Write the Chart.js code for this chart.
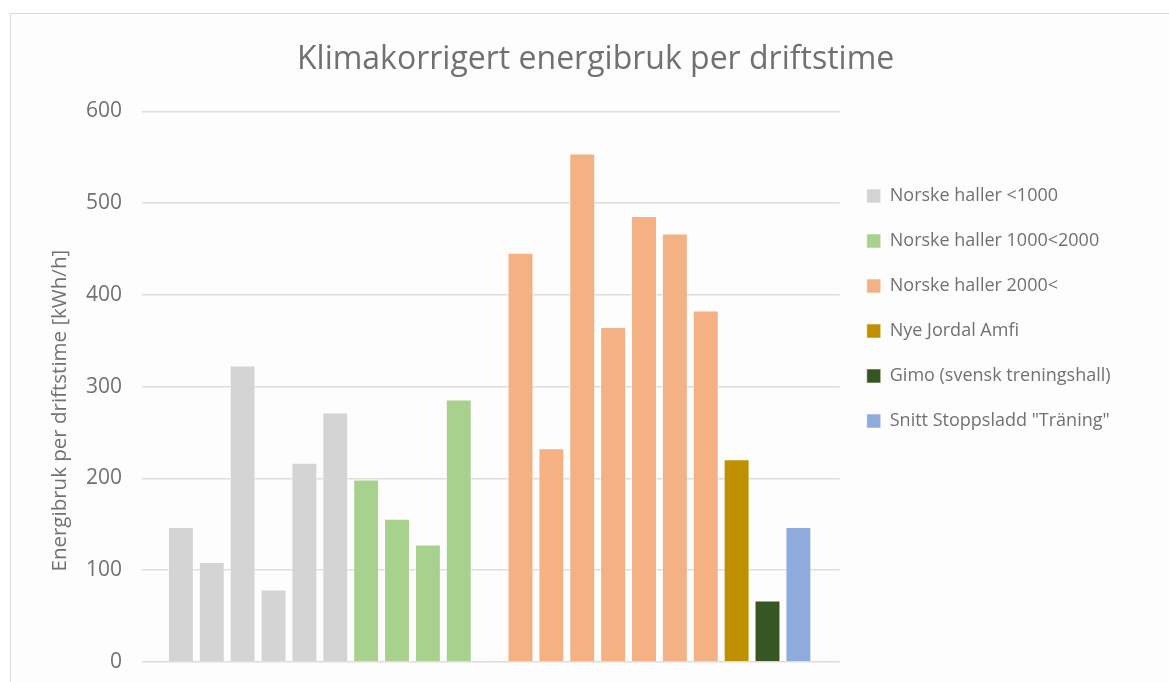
<!DOCTYPE html>
<html>
<head>
<meta charset="utf-8">
<script src="https://cdn.jsdelivr.net/npm/chart.js@4/dist/chart.umd.min.js"></script>
<style>
  html, body { margin: 0; padding: 0; background: #fff; overflow: hidden; }
  .frame { position: absolute; left: 10px; top: 13px; width: 1200px; height: 720px; border: 1px solid #dcdcdc; background: #fdfdfd; }
  #chart { position: absolute; left: 0; top: 0; }
</style>
</head>
<body>
<div class="frame"></div>
<canvas id="chart" width="1169" height="682"></canvas>
<script>
// values (kWh/h)
const seriesNames = [
  'Norske haller <1000',
  'Norske haller 1000<2000',
  'Norske haller 2000<',
  'Nye Jordal Amfi',
  'Gimo (svensk treningshall)',
  'Snitt Stoppsladd "Träning"'
];
const smallHalls = [147, 109, 323, 79, 217, 272];
const mediumHalls = [199, 156, 128, 286];
const largeHalls = [446, 233, 554, 365, 486, 467, 383];
const nyeJordal = [221];
const gimo = [67];
const stoppsladd = [147];
const yTicks = [0, 100, 200, 300, 400, 500, 600];

// empty slots placed before each group
const gapsBefore = [0, 0, 1, 0, 0, 0];
const colors = ['#d4d4d4', '#a9d18e', '#f4b183', '#bf9000', '#375623', '#8faadc'];

const groups = [smallHalls, mediumHalls, largeHalls, nyeJordal, gimo, stoppsladd];
const slotCount = groups.reduce((n, g, i) => n + g.length + gapsBefore[i], 0);
const labels = new Array(slotCount).fill('');

let pos = 0;
const datasets = groups.map((vals, i) => {
  pos += gapsBefore[i];
  const data = new Array(slotCount).fill(null);
  vals.forEach((v, j) => { data[pos + j] = v; });
  pos += vals.length;
  return {
    label: seriesNames[i],
    data: data,
    backgroundColor: colors[i],
    borderColor: 'rgba(255,255,255,0.55)',
    borderWidth: 1,
    grouped: false,
    barPercentage: 0.84,
    categoryPercentage: 1
  };
});

const textGray = '#717171';
// extra room (in slots) left of the first and right of the last bar
const edgeLeft = 1.26, edgeRight = 1.34;
const padL = 20, padR = 56;

new Chart(document.getElementById('chart'), {
  type: 'bar',
  data: { labels: labels, datasets: datasets },
  options: {
    responsive: false,
    animation: false,
    layout: { padding: { left: padL, right: padR, top: 0, bottom: 20 } },
    plugins: {
      title: {
        display: true,
        // leading spaces keep the title centred over the whole frame
        text: '\u00a0'.repeat(7) + 'Klimakorrigert energibruk per driftstime',
        color: textGray,
        font: { family: 'Open Sans', size: 32, weight: 'normal' },
        padding: { top: 41, bottom: 32 }
      },
      legend: {
        position: 'right',
        align: 'start',
        title: { display: true, text: '', font: { size: 10 }, padding: { top: 148, bottom: 0 } },
        labels: {
          boxWidth: 14,
          boxHeight: 14,
          padding: 27,
          color: textGray,
          font: { family: 'Open Sans', size: 18 }
        }
      },
      tooltip: { enabled: false }
    },
    scales: {
      x: {
        display: false,
        afterBuildTicks: (scale) => {
          scale._startValue = -edgeLeft;
          scale._valueRange = labels.length - 1 + edgeLeft + edgeRight;
        }
      },
      y: {
        min: 0,
        max: 600,
        afterBuildTicks: (scale) => { scale.ticks = yTicks.map(v => ({ value: v })); },
        afterFit: (scale) => {
          scale.width = 142 - padL;
          scale.paddingBottom = 12;
        },
        border: { display: false },
        grid: { color: '#dedede', lineWidth: 1.5, drawTicks: false },
        ticks: {
          padding: 20,
          color: textGray,
          font: { family: 'Open Sans', size: 21 }
        },
        title: {
          display: true,
          text: 'Energibruk per driftstime [kWh/h]' + '\u00a0'.repeat(9),
          color: textGray,
          font: { family: 'Open Sans', size: 20.5 },
          padding: { top: 28, bottom: 0 }
        }
      }
    }
  }
});
</script>
</body>
</html>
